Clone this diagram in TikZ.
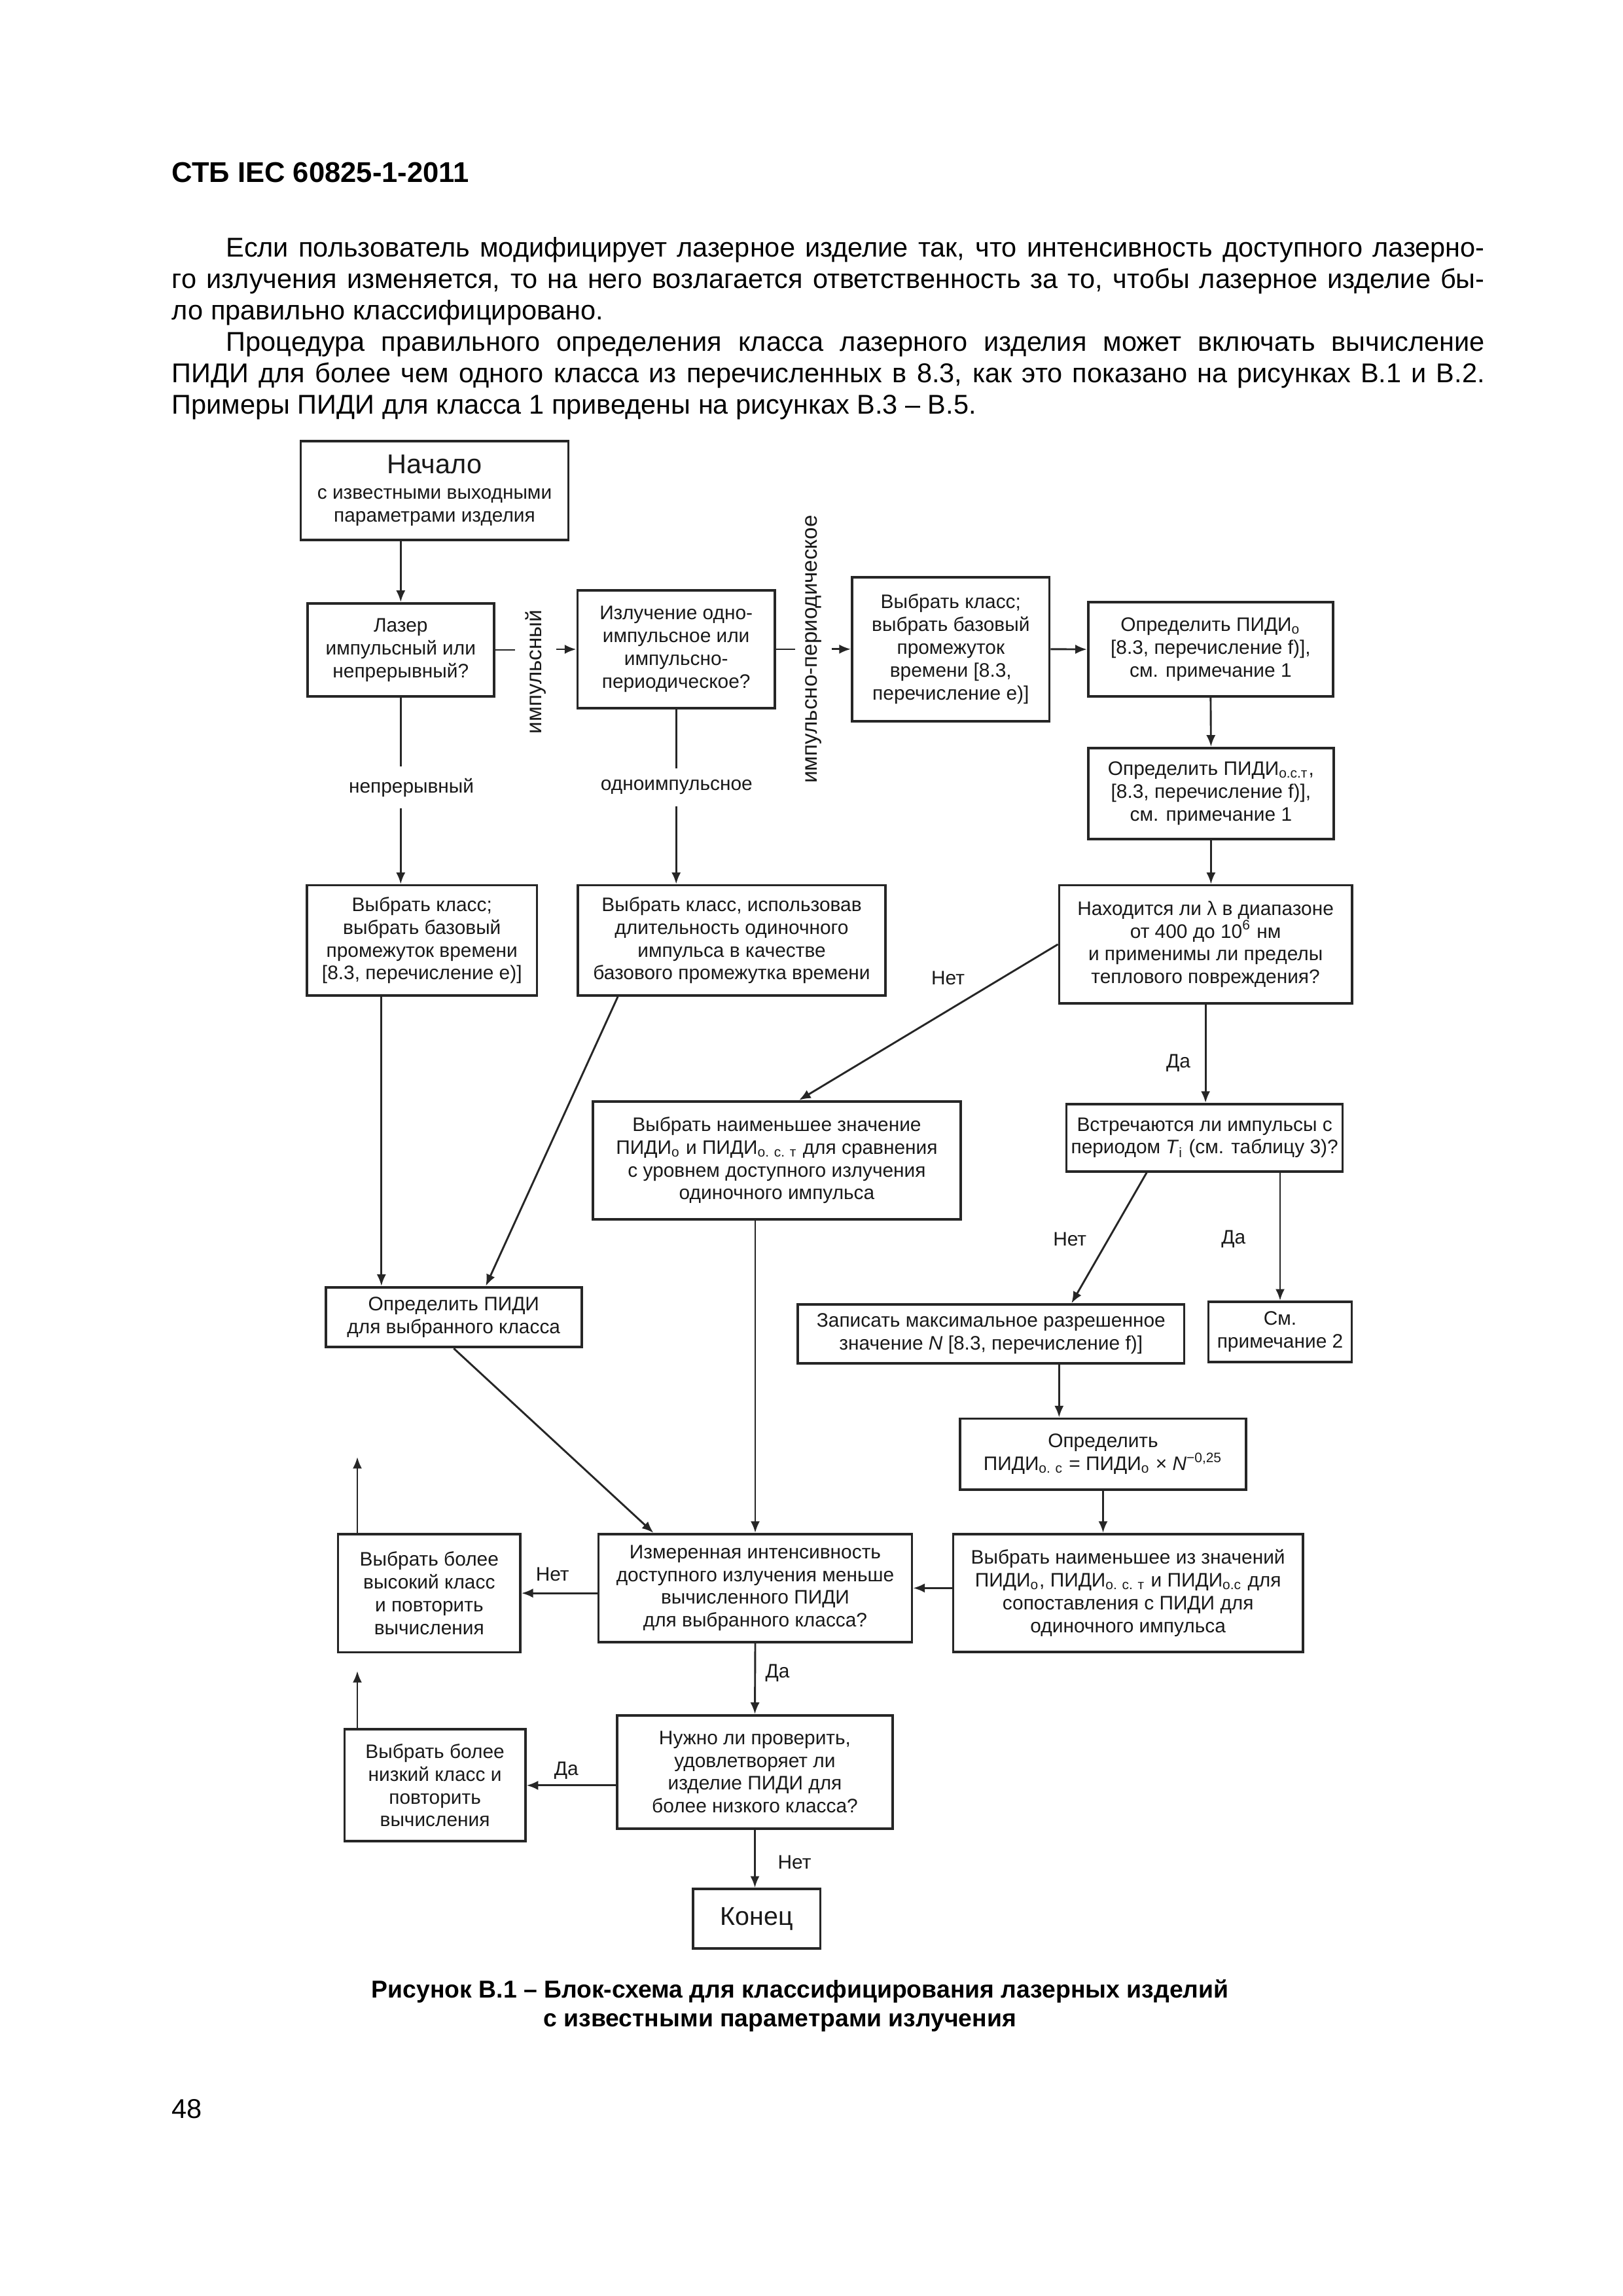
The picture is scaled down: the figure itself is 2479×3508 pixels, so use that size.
\documentclass[tikz,border=0pt]{standalone}
\usepackage{fontspec}
\setmainfont{Liberation Sans}
\usetikzlibrary{arrows.meta,calc}
\newcommand{\pxu}[1]{#1*0.084711mm}
\newlength\wa \setlength{\wa}{162.9mm}
\newlength\wb \setlength{\wb}{169.93mm}
\begin{document}
\begin{tikzpicture}[x=0.084711mm,y=-0.084711mm,
  box/.style={draw=black!85, line width=0.9pt, inner sep=0pt, align=center,
    font=\fontsize{7.2}{8.4}\selectfont, text=black!90},
  conn/.style={draw=black!85, line width=0.7pt},
  arr/.style={conn, -{Latex[length=1.5mm,width=1.2mm]}},
  lbl/.style={font=\fontsize{7.2}{8.4}\selectfont, inner xsep=0pt, inner ysep=4pt, text=black!90},
  vlbl/.style={font=\fontsize{8}{9.6}\selectfont, rotate=90, inner xsep=0pt, inner ysep=3.5pt, text=black!90},
  body/.style={font=\fontsize{10}{12}\selectfont, inner sep=0pt},
  captxt/.style={font=\bfseries\fontsize{9}{11}\selectfont, inner sep=0pt}]
\useasboundingbox[fill=white] (0,0) rectangle (2479,3508);

% header and text
\node[anchor=base west, font=\bfseries\fontsize{10.5}{12}\selectfont, inner sep=0pt] (hdr) at (262,278) {СТБ IEC 60825-1-2011};
\node[anchor=base west, body] (p1) at (345,392) {\hbox to\wa{Если пользователь модифицирует лазерное изделие так, что интенсивность доступного лазерно-}};
\node[anchor=base west, body] (p2) at (262,440) {\hbox to\wb{го излучения изменяется, то на него возлагается ответственность за то, чтобы лазерное изделие бы-}};
\node[anchor=base west, body] (p3) at (262,488) {ло правильно классифицировано.};
\node[anchor=base west, body] (p4) at (345,536) {\hbox to\wa{Процедура правильного определения класса лазерного изделия может включать вычисление}};
\node[anchor=base west, body] (p5) at (262,584) {\hbox to\wb{ПИДИ для более чем одного класса из перечисленных в 8.3, как это показано на рисунках В.1 и В.2.}};
\node[anchor=base west, body] (p6) at (262,632) {Примеры ПИДИ для класса 1 приведены на рисунках В.3 – В.5.};

% boxes
\node[box, minimum width=\pxu{409}, minimum height=\pxu{151}] (start) at (664,749.5)
  {{\fontsize{10}{11}\selectfont Начало}\\[1pt] с известными выходными\\параметрами изделия};
\node[box, minimum width=\pxu{285}, minimum height=\pxu{142.6}] (laz) at (612.3,993)
  {Лазер\\импульсный или\\непрерывный?};
\node[box, minimum width=\pxu{301.6}, minimum height=\pxu{180.6}] (izl) at (1033.2,992)
  {Излучение одно-\\импульсное или\\импульсно-\\периодическое?};
\node[box, minimum width=\pxu{301.6}, minimum height=\pxu{220}] (vkt) at (1452.8,991.8)
  {Выбрать класс;\\выбрать базовый\\промежуток\\времени [8.3,\\перечисление e)]};
\node[box, minimum width=\pxu{374.3}, minimum height=\pxu{144.2}] (po) at (1849.9,992.1)
  {Определить ПИДИ\textsubscript{о}\\{}[8.3, перечисление f)],\\см. примечание 1};
\node[box, minimum width=\pxu{375.3}, minimum height=\pxu{139}] (post) at (1850.4,1212.2)
  {Определить ПИДИ\textsubscript{о.с.т},\\{}[8.3, перечисление f)],\\см. примечание 1};
\node[box, minimum width=\pxu{351.5}, minimum height=\pxu{168.4}] (vk1) at (644.8,1436.8)
  {Выбрать класс;\\выбрать базовый\\промежуток времени\\{}[8.3, перечисление e)]};
\node[box, minimum width=\pxu{470}, minimum height=\pxu{168.4}] (vk2) at (1118,1436.8)
  {Выбрать класс, использовав\\длительность одиночного\\импульса в качестве\\базового промежутка времени};
\node[box, minimum width=\pxu{447.4}, minimum height=\pxu{180.4}] (nah) at (1842.1,1442.8)
  {Находится ли λ в диапазоне\\от 400 до 10\textsuperscript{6} нм\\и применимы ли пределы\\теплового повреждения?};
\node[box, minimum width=\pxu{562}, minimum height=\pxu{180}] (vnz) at (1187,1772.7)
  {Выбрать наименьшее значение\\ПИДИ\textsubscript{о} и ПИДИ\textsubscript{о. с. т} для сравнения\\с уровнем доступного излучения\\одиночного импульса};
\node[box, minimum width=\pxu{422}, minimum height=\pxu{103}] (vst) at (1840.6,1738.3)
  {Встречаются ли импульсы с\\периодом \textit{T}\textsubscript{i} (см. таблицу 3)?};
\node[box, minimum width=\pxu{391}, minimum height=\pxu{91.6}] (opr) at (693.3,2012.5)
  {Определить ПИДИ\\для выбранного класса};
\node[box, minimum width=\pxu{590.5}, minimum height=\pxu{90}] (zap) at (1514.3,2038)
  {Записать максимальное разрешенное\\значение \textit{N} [8.3, перечисление f)]};
\node[box, minimum width=\pxu{219}, minimum height=\pxu{91.7}] (sm) at (1956,2034.9)
  {См.\\примечание 2};
\node[box, minimum width=\pxu{437.5}, minimum height=\pxu{108.5}] (opc) at (1685.5,2221.7)
  {Определить\\ПИДИ\textsubscript{о. с} = ПИДИ\textsubscript{о} × \textit{N}\textsuperscript{−0,25}};
\node[box, minimum width=\pxu{278.4}, minimum height=\pxu{180.6}] (vvk) at (655.8,2434.1)
  {Выбрать более\\высокий класс\\и повторить\\вычисления};
\node[box, minimum width=\pxu{479}, minimum height=\pxu{165}] (izm) at (1154,2426.3)
  {Измеренная интенсивность\\доступного излучения меньше\\вычисленного ПИДИ\\для выбранного класса?};
\node[box, minimum width=\pxu{534.5}, minimum height=\pxu{180}] (vmz) at (1723.7,2433.8)
  {Выбрать наименьшее из значений\\ПИДИ\textsubscript{о}, ПИДИ\textsubscript{о. с. т} и ПИДИ\textsubscript{о.с} для\\сопоставления с ПИДИ для\\одиночного импульса};
\node[box, minimum width=\pxu{276.2}, minimum height=\pxu{171}] (vnk) at (664.6,2727.8)
  {Выбрать более\\низкий класс и\\повторить\\вычисления};
\node[box, minimum width=\pxu{421}, minimum height=\pxu{173.3}] (nzh) at (1153.5,2707.4)
  {Нужно ли проверить,\\удовлетворяет ли\\изделие ПИДИ для\\более низкого класса?};
\node[box, minimum width=\pxu{194.6}, minimum height=\pxu{90.7}, font=\fontsize{9.5}{11}\selectfont] (kon) at (1156.3,2931.4)
  {Конец};

% labels
\node[vlbl] (limp) at (818.6,1026.5) {импульсный};
\node[vlbl] (lper) at (1243,992) {импульсно-периодическое};
\node[lbl] (lnep) at (628.6,1203) {непрерывный};
\node[lbl] (lodn) at (1033.8,1203) {одноимпульсное};
\node[lbl] (lnet1) at (1448.5,1494) {Нет};
\node[lbl] (lda1) at (1800.5,1624) {Да};
\node[lbl] (lnet2) at (1634.7,1893) {Нет};
\node[lbl] (lda2) at (1884.7,1893) {Да};
\node[lbl] (lnet3) at (844.2,2405) {Нет};
\node[lbl] (lda3) at (1188,2556) {Да};
\node[lbl] (lda4) at (865.3,2705) {Да};
\node[lbl] (lnet4) at (1214,2845) {Нет};

% connectors
\draw[arr] (laz.north |- start.south) -- (laz.north);
\draw[conn] (laz.east) -- (laz.east -| limp.north);
\draw[arr] (izl.west -| limp.south) -- (izl.west);
\draw[conn] (izl.east) -- (izl.east -| lper.north);
\draw[arr] (vkt.west -| lper.south) -- (vkt.west);
\draw[arr] (vkt.east) -- (po.west);
\draw[arr] (po.south) -- (post.north);
\draw[arr] (post.south) -- (post.south |- nah.north);
\draw[conn] (laz.south) -- (laz.south |- lnep.north);
\draw[arr] (laz.south |- lnep.south) -- (laz.south |- vk1.north);
\draw[conn] (izl.south) -- (izl.south |- lodn.north);
\draw[arr] (izl.south |- lodn.south) -- (izl.south |- vk2.north);
\coordinate (a1) at ($(vk1.south)+(-62,0)$);
\draw[arr] (a1) -- (a1 |- opr.north);
\draw[arr] ($(vk2.south)+(-174,0)$) -- ($(opr.north)+(49,0)$);
\draw[arr] (opr.south) -- ($(izm.north)+(-155.5,0)$);
\draw[arr] (izm.north |- vnz.south) -- (izm.north);
\draw[arr] (nah.west) -- ($(vnz.north)+(34,0)$);
\draw[arr] (nah.south) -- (nah.south |- vst.north);
\draw[arr] ($(vst.south)+(-88.5,0)$) -- ($(zap.north)+(123,0)$);
\draw[arr] (sm.north |- vst.south) -- (sm.north);
\coordinate (a2) at ($(zap.south)+(104,0)$);
\draw[arr] (a2) -- (a2 |- opc.north);
\draw[arr] (opc.south) -- (opc.south |- vmz.north);
\draw[arr] (vmz.west |- izm.east) -- (izm.east);
\draw[arr] (izm.west |- vvk.east) -- (vvk.east);
\coordinate (up1) at (546,2226);
\draw[arr] (up1 |- vvk.north) -- (up1);
\draw[arr] (izm.south) -- (nzh.north);
\draw[arr] (nzh.west |- vnk.east) -- (vnk.east);
\coordinate (up2) at (546,2553);
\draw[arr] (up2 |- vnk.north) -- (up2);
\draw[arr] (nzh.south) -- (nzh.south |- kon.north);

% caption and page number
\node[anchor=base, captxt] (cap1) at (1222.7,3052) {Рисунок В.1 – Блок-схема для классифицирования лазерных изделий};
\node[anchor=base, captxt] (cap2) at (1191.6,3096) {с известными параметрами излучения};
\node[anchor=base west, body] (pg) at (262,3236) {48};
\end{tikzpicture}
\end{document}
